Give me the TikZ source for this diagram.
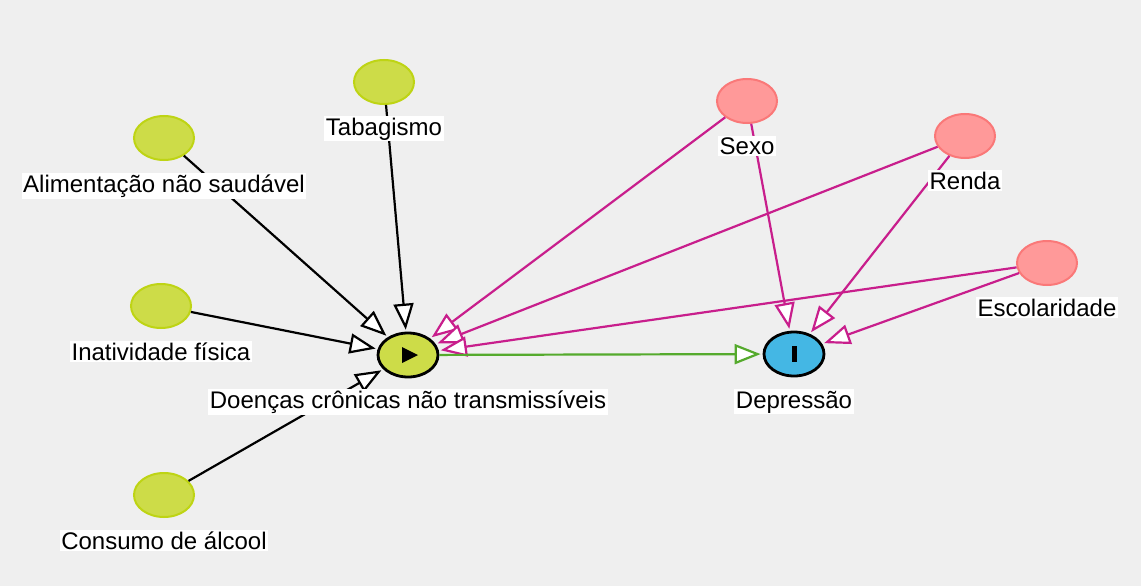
\documentclass[tikz,border=0pt]{standalone}
\usepackage{fontspec}
\setmainfont{Liberation Sans}
\usetikzlibrary{shapes.geometric,arrows.meta}
\definecolor{bg}{RGB}{239,239,239}
\definecolor{gfill}{RGB}{205,220,72}
\definecolor{gline}{RGB}{190,212,20}
\definecolor{pfill}{RGB}{255,153,153}
\definecolor{pline}{RGB}{250,120,120}
\definecolor{bfill}{RGB}{68,183,228}
\definecolor{pinkedge}{RGB}{200,30,140}
\definecolor{greenedge}{RGB}{85,170,45}
\tikzset{
  var/.style={ellipse, minimum width=60pt, minimum height=44pt, inner sep=0pt, line width=2pt},
  anc/.style={var, fill=gfill, draw=gline},
  conf/.style={var, fill=pfill, draw=pline},
  expo/.style={var, fill=gfill, draw=black, line width=2.8pt},
  outc/.style={var, fill=bfill, draw=black, line width=2.8pt},
  lab/.style={fill=white, inner sep=1.5pt, anchor=base, font=\fontsize{24}{28}\selectfont},
  edgebase/.style={line width=2.2pt, shorten >=2pt, -{Triangle[length=26pt, width=20pt, fill=white]}},
  blackedge/.style={edgebase, draw=black},
  pedge/.style={edgebase, draw=pinkedge},
  gedge/.style={edgebase, draw=greenedge},
}
\begin{document}
\begin{tikzpicture}[x=1pt,y=-1pt]
\fill[bg] (0,0) rectangle (1141,586);
\useasboundingbox (0,0) rectangle (1141,586);
% nodes
\node[anc] (tab) at (384,82) {};
\node[anc] (ali) at (164,138) {};
\node[anc] (ina) at (161,306) {};
\node[anc] (alc) at (164,495) {};
\node[expo] (dcnt) at (408,355) {};
\node[outc] (dep) at (794,354) {};
\node[conf] (sex) at (747,101) {};
\node[conf] (ren) at (965,136) {};
\node[conf] (esc) at (1047,263) {};
% symbols
\fill[black] (402,347) -- (418,355) -- (402,363) -- cycle;
\fill[black] (791.5,346) rectangle (796.5,362);
% edges
\draw[blackedge] (ali) -- (dcnt);
\draw[blackedge] (tab) -- (dcnt);
\draw[blackedge] (ina) -- (dcnt);
\draw[blackedge] (alc) -- (dcnt);
\draw[pedge] (sex) -- (dcnt);
\draw[pedge] (ren) -- (dcnt);
\draw[pedge] (esc) -- (dcnt);
\draw[pedge] (sex) -- (dep);
\draw[pedge] (ren) -- (dep);
\draw[pedge] (esc) -- (dep);
\draw[gedge] (dcnt) -- (dep);
% labels
\node[lab] (tabL) at (384,135) {Tabagismo};
\node[lab] (aliL) at (164,192) {Alimentação não saudável};
\node[lab] (inaL) at (161,360) {Inatividade física};
\node[lab] (alcL) at (164,549) {Consumo de álcool};
\node[lab] (dcntL) at (408,408) {Doenças crônicas não transmissíveis};
\node[lab] (depL) at (794,408) {Depressão};
\node[lab] (sexL) at (747,154) {Sexo};
\node[lab] (renL) at (965,189) {Renda};
\node[lab] (escL) at (1047,316) {Escolaridade};
\end{tikzpicture}
\end{document}
